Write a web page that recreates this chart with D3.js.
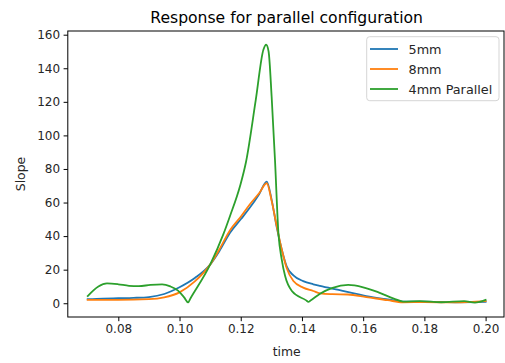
<!DOCTYPE html>
<html>
<head>
<meta charset="utf-8">
<script src="https://cdn.jsdelivr.net/npm/d3@7"></script>
<style>
  body { margin: 0; background: #fff; }
  svg { display: block; font-family: "DejaVu Sans", sans-serif; }
</style>
</head>
<body>
<svg id="chart" width="505" height="363"></svg>
<script>
// series values
const blueTime = [0.07, 0.075, 0.08, 0.085, 0.09, 0.095, 0.1, 0.105, 0.11, 0.113, 0.1165, 0.12, 0.123, 0.126, 0.1285,
  0.1301, 0.1317, 0.1334, 0.135, 0.1372, 0.1404, 0.1437, 0.1459, 0.152, 0.161, 0.168, 0.173, 0.18, 0.19, 0.2];
const blueSlope = [2.4, 2.8, 3.0, 3.2, 3.7, 5.5, 9.5, 15, 23, 31, 42, 50, 57, 65, 72.5,
  61.6, 45.8, 32, 22, 16.6, 13.2, 11.3, 10.3, 7.9, 4.3, 2.3, 1, 0.9, 0.6, 0.8];

const orangeTime = [0.07, 0.08, 0.09, 0.095, 0.1, 0.105, 0.11, 0.113, 0.1165, 0.12, 0.123, 0.126, 0.1285,
  0.1301, 0.1317, 0.1334, 0.135, 0.1372, 0.1404, 0.1437, 0.1459, 0.15, 0.155, 0.161, 0.168, 0.173, 0.18, 0.19, 0.2];
const orangeSlope = [2.0, 2.0, 2.4, 3.5, 6.5, 13, 23, 32, 43.5, 51.5, 59, 65.5, 71.5,
  61, 46.5, 32, 21, 13.2, 9.3, 7.3, 5.9, 5.4, 5.2, 3.7, 1.8, 0.6, 0.7, 0.5, 1.3];

const greenTime = [0.07, 0.0735, 0.0763, 0.08, 0.0835, 0.0867, 0.0905, 0.0943, 0.097, 0.0995, 0.1015, 0.1028, 0.1036,
  0.11, 0.1143, 0.1165, 0.1198, 0.1217, 0.1249, 0.1274, 0.1283, 0.1291, 0.1301, 0.1312, 0.1323, 0.1334, 0.1345,
  0.1367, 0.1414, 0.1421, 0.1428, 0.1459, 0.15, 0.1551, 0.16, 0.165, 0.17, 0.173, 0.1785, 0.1855, 0.193, 0.1965, 0.2];
const greenSlope = [4.3, 10, 11.8, 11.3, 10.4, 10.2, 10.9, 11.2, 10, 7.5, 3.5, 0.5, 3.0,
  23, 41, 52, 70, 84, 121, 151, 154, 150, 123, 85, 42, 26, 16.2,
  7.3, 1.7, 0.8, 1.6, 5.7, 9.2, 10.9, 9.5, 6.5, 2.8, 1, 1.3, 0.6, 1.2, 0.4, 2];

const seriesNames = ['5mm', '8mm', '4mm Parallel'];
const seriesColors = ['#1f77b4', '#ff7f0e', '#2ca02c'];
const xTicks = [0.08, 0.10, 0.12, 0.14, 0.16, 0.18, 0.20];
const yTicks = [0, 20, 40, 60, 80, 100, 120, 140, 160];

const series = [
  {name: seriesNames[0], color: seriesColors[0], pts: blueTime.map((t, i) => [t, blueSlope[i]])},
  {name: seriesNames[1], color: seriesColors[1], pts: orangeTime.map((t, i) => [t, orangeSlope[i]])},
  {name: seriesNames[2], color: seriesColors[2], pts: greenTime.map((t, i) => [t, greenSlope[i]])}
];

const margin = {left: 67.8, top: 31, bottom: 317, right: 504};

const x = d3.scaleLinear().domain([0.0635, 0.2065]).range([margin.left, 505.5]);
const y = d3.scaleLinear().domain([-8.2, 162.2]).range([margin.bottom, margin.top]);

const svg = d3.select('#chart');

// lines
const line = d3.line()
  .x(d => x(d[0]))
  .y(d => y(d[1]))
  .curve(d3.curveMonotoneX);

svg.append('g')
  .selectAll('path')
  .data(series)
  .join('path')
  .attr('d', d => line(d.pts))
  .attr('fill', 'none')
  .attr('stroke', d => d.color)
  .attr('stroke-width', 1.8)
  .attr('stroke-linejoin', 'round')
  .attr('stroke-linecap', 'square');

// axes
const xAxis = svg.append('g')
  .attr('transform', `translate(0,${margin.bottom})`)
  .call(d3.axisBottom(x).tickValues(xTicks).tickFormat(d3.format('.2f')).tickSize(4.2).tickPadding(3.5));
const yAxis = svg.append('g')
  .attr('transform', `translate(${margin.left},0)`)
  .call(d3.axisLeft(y).tickValues(yTicks).tickSize(4.2).tickPadding(3.5));

[xAxis, yAxis].forEach(a => {
  a.select('.domain').remove();
  a.selectAll('text').attr('font-size', 12).attr('fill', '#262626').attr('font-family', '"DejaVu Sans", sans-serif');
  a.selectAll('line').attr('stroke', '#000').attr('stroke-width', 1);
});

// frame
svg.append('rect')
  .attr('x', margin.left)
  .attr('y', margin.top)
  .attr('width', margin.right - margin.left)
  .attr('height', margin.bottom - margin.top)
  .attr('fill', 'none')
  .attr('stroke', '#000')
  .attr('stroke-width', 1);

// labels
svg.append('text')
  .attr('x', (margin.left + 505.5) / 2)
  .attr('y', 23)
  .attr('text-anchor', 'middle')
  .attr('font-size', 15.6)
  .attr('fill', '#000')
  .text('Response for parallel configuration');

svg.append('text')
  .attr('x', (margin.left + 505.5) / 2)
  .attr('y', 356)
  .attr('text-anchor', 'middle')
  .attr('font-size', 12.4)
  .attr('fill', '#262626')
  .text('time');

svg.append('text')
  .attr('transform', `translate(25,${(margin.top + margin.bottom) / 2}) rotate(-90)`)
  .attr('text-anchor', 'middle')
  .attr('font-size', 12.4)
  .attr('fill', '#262626')
  .text('Slope');

// legend
const legend = svg.append('g');
legend.append('rect')
  .attr('x', 366.7)
  .attr('y', 36.7)
  .attr('width', 132.3)
  .attr('height', 64)
  .attr('rx', 3)
  .attr('fill', 'rgba(255,255,255,0.8)')
  .attr('stroke', '#d5d5d5')
  .attr('stroke-width', 1);

const items = legend.selectAll('g.item')
  .data(series)
  .join('g')
  .attr('class', 'item')
  .attr('transform', (d, i) => `translate(0,${49 + i * 20})`);
items.append('line')
  .attr('x1', 370).attr('x2', 398)
  .attr('y1', 0).attr('y2', 0)
  .attr('stroke', d => d.color)
  .attr('stroke-width', 1.8);
items.append('text')
  .attr('x', 408.5)
  .attr('y', 4.5)
  .attr('font-size', 12.8)
  .attr('fill', '#262626')
  .text(d => d.name);
</script>
</body>
</html>
